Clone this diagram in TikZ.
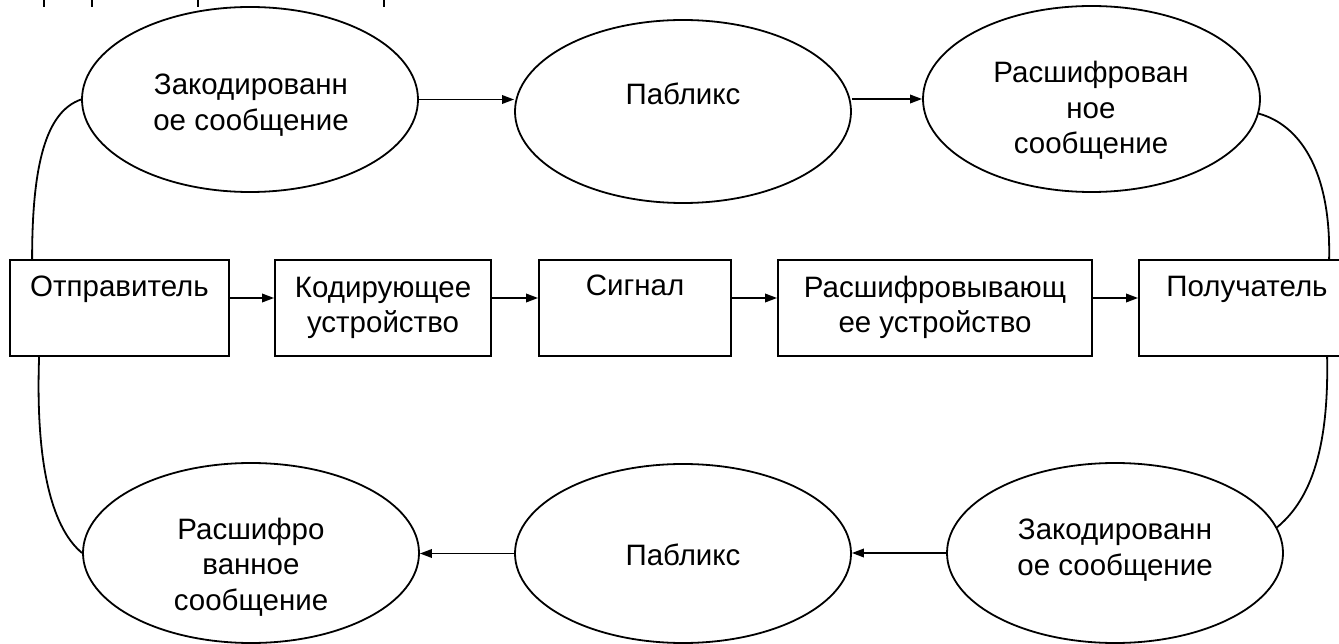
\documentclass[tikz,border=0pt]{standalone}
\usepackage{fontspec}
\setmainfont{Liberation Sans}
\usetikzlibrary{shapes.geometric,arrows.meta}
\begin{document}
\begin{tikzpicture}[x=1pt,y=-1pt,
  txt/.style={font=\fontsize{29.5}{35.5}\selectfont, anchor=base, align=center, inner sep=0pt},
  oval/.style={draw, ellipse, line width=1.8pt, inner sep=0pt},
  blk/.style={draw, rectangle, line width=1.8pt, inner sep=0pt},
  arr/.style={line width=1.8pt, -{Triangle[length=12pt,width=8.5pt]}},
  link/.style={line width=1.8pt},
  tick/.style={line width=2.8pt}]
\useasboundingbox (0,0) rectangle (1339,644);

% cut-off text remnants at the top
\draw[tick] (44,0) -- (44,7);
\draw[tick] (92,0) -- (92,7);
\draw[tick] (198,0) -- (198,7);
\draw[tick] (384,0) -- (384,7);

% ellipses
\node[oval, minimum width=336pt, minimum height=185pt] (e1) at (250,99.5) {};
\node[oval, minimum width=336pt, minimum height=183pt] (e2) at (683,111.5) {};
\node[oval, minimum width=337pt, minimum height=186pt] (e3) at (1091.5,99) {};
\node[oval, minimum width=336pt, minimum height=180pt] (b1) at (251,553) {};
\node[oval, minimum width=336pt, minimum height=179pt] (b2) at (683,553.5) {};
\node[oval, minimum width=336pt, minimum height=180pt] (b3) at (1115,553) {};

% boxes
\node[blk, minimum width=219pt, minimum height=96pt] (x1) at (119.5,308) {};
\node[blk, minimum width=216pt, minimum height=96pt] (x2) at (383,308) {};
\node[blk, minimum width=192pt, minimum height=96pt] (x3) at (635,308) {};
\node[blk, minimum width=314pt, minimum height=96pt] (x4) at (935,308) {};
\node[blk, minimum width=216pt, minimum height=96pt] (x5) at (1247,308) {};

% texts (base anchor = baseline of the last line)
\node[txt] (t1) at (251,130.5) {Закодированн\\ое сообщение};
\node[txt] (t2) at (683,105) {Пабликс};
\node[txt] (t3) at (1091,154) {Расшифрован\\ное\\сообщение};
\node[txt] (u1) at (251,610) {Расшифро\\ванное\\сообщение};
\node[txt] (u2) at (683,565) {Пабликс};
\node[txt] (u3) at (1115,575) {Закодированн\\ое сообщение};
\node[txt] (s1) at (119.5,297) {Отправитель};
\node[txt] (s2) at (383,332.5) {Кодирующее\\устройство};
\node[txt] (s3) at (635,296) {Сигнал};
\node[txt] (s4) at (935,332.5) {Расшифровывающ\\ее устройство};
\node[txt] (s5) at (1247,297) {Получатель};

% middle row arrows
\draw[arr] ([yshift=10pt]x1.east) -- ([yshift=10pt]x2.west);
\draw[arr] ([yshift=10pt]x2.east) -- ([yshift=10pt]x3.west);
\draw[arr] ([yshift=10pt]x3.east) -- ([yshift=10pt]x4.west);
\draw[arr] ([yshift=10pt]x4.east) -- ([yshift=10pt]x5.west);

% top row arrows
\draw[arr] (e1.east) -- (e1.east -| e2.west);
\draw[arr] (e3.west -| e2.east) -- (e3.west);

% bottom row arrows
\draw[arr] (b3.west) -- (b3.west -| b2.east);
\draw[arr] (b2.west) -- (b2.west -| b1.east);

% side links
\draw[link] ([xshift=23pt]x1.north west) .. controls +(0,-95) and +(-35,12) .. (e1.west);
\draw[link] ([xshift=30pt]x1.south west) .. controls +(-4,114) and +(-28,-23) .. (b1.west);
\draw[link] (e3.-5) .. controls +(40,11) and +(2,-90) .. ([xshift=191pt]x5.north west);
\draw[link] ([xshift=189pt]x5.south west) .. controls +(2,100) and +(30,-25) .. (b3.9);
\end{tikzpicture}
\end{document}
